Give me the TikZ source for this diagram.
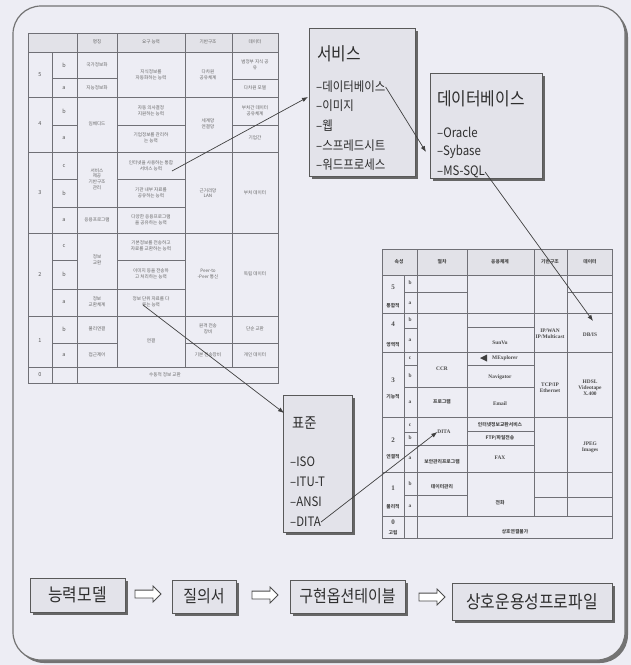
\documentclass[tikz,border=0pt]{standalone}
\usepackage{fontspec}
\setmainfont{Noto Sans CJK KR}
\newfontfamily\kr{Noto Sans CJK KR}
\newfontfamily\krn[FakeStretch=0.88]{Noto Sans CJK KR}
\newfontfamily\tms{Liberation Serif}
\usetikzlibrary{shapes.arrows,shadows,arrows.meta}
\definecolor{bg}{HTML}{EDEDF4}
\definecolor{panelc}{HTML}{E3E3EA}
\definecolor{hdr}{HTML}{E2E2E8}
\definecolor{ink}{HTML}{2E2E2E}
\definecolor{grid}{HTML}{707076}
\begin{document}
\begin{tikzpicture}[x=1pt,y=-1pt,
 tline/.style={draw=grid, line width=0.7pt},
 ltxt/.style={font=\kr\fontsize{4.6}{5.6}\selectfont, text=black!60, align=center, inner sep=0pt},
 lnum/.style={font=\kr\fontsize{5.5}{6}\selectfont, text=black!65, inner sep=0pt},
 rtxt/.style={font=\tms\bfseries\fontsize{5.4}{6.2}\selectfont, text=black!70, align=center, inner sep=0pt},
 rkr/.style={font=\kr\bfseries\fontsize{4.8}{5.6}\selectfont, text=black!70, align=center, inner sep=0pt},
 panel/.style={draw=black!65, line width=0.9pt, fill=panelc, general shadow={fill=black!60, shadow xshift=3pt, shadow yshift=-3pt}},
 ttl/.style={font=\krn\fontsize{18}{18}\selectfont, text=ink, inner sep=0pt, anchor=west},
 itm/.style={font=\krn\fontsize{13}{13}\selectfont, text=ink, inner sep=0pt, anchor=west},
 link/.style={draw=black!75, line width=0.7pt, -{Latex[length=6pt,width=4.5pt]}},
 flow/.style={panel, text=ink, inner sep=0pt},
 fat/.style={single arrow, draw=black!70, fill=white, line width=0.8pt, minimum height=26pt, inner sep=3.5pt, single arrow head extend=4pt}
]
\fill[bg] (0,0) rectangle (631,665);
\useasboundingbox (0,0) rectangle (631,665);
% outer frame
\fill[black!55, rounded corners=28pt] (16,9) rectangle (628,663);
\fill[bg, rounded corners=28pt] (13,6) rectangle (625,660);
\draw[black!55, line width=1.2pt, rounded corners=28pt] (13,6) rectangle (625,660);

% ================= left table =================
\fill[hdr] (28,33) rectangle (278,52);
\draw[tline] (28,33) rectangle (278,383);
\foreach \y in {52,97,152,233,316,367} \draw[tline] (28,\y) -- (278,\y);
\draw[tline] (52,52) -- (52,383);
\draw[tline] (77,33) -- (77,383);
\draw[tline] (117,33) -- (117,367);
\draw[tline] (185,33) -- (185,367);
\draw[tline] (232,33) -- (232,367);
\draw[tline] (52,78) -- (117,78);  \draw[tline] (232,79) -- (278,79);
\draw[tline] (52,125) -- (77,125); \draw[tline] (117,125) -- (185,125); \draw[tline] (232,125) -- (278,125);
\draw[tline] (52,179) -- (77,179); \draw[tline] (117,179) -- (185,179);
\draw[tline] (52,207) -- (185,207);
\draw[tline] (52,260) -- (77,260); \draw[tline] (117,260) -- (185,260);
\draw[tline] (52,289) -- (185,289);
\draw[tline] (52,343) -- (117,343); \draw[tline] (185,343) -- (278,343);

\node[ltxt] (lh2) at (97,42) {명칭};
\node[ltxt] (lh3) at (151,42) {요구 능력};
\node[ltxt] (lh4) at (208,42) {기반구조};
\node[ltxt] (lh5) at (255,42) {데이터};
\node[lnum] (ln5) at (40,75) {5};
\node[lnum] (ln4) at (40,124) {4};
\node[lnum] (ln3) at (40,193) {3};
\node[lnum] (ln2) at (40,274) {2};
\node[lnum] (ln1) at (40,341) {1};
\node[lnum] (ln0) at (40,375) {0};
\node[lnum] (ls5b) at (64,65) {b};  \node[lnum] (ls5a) at (64,88) {a};
\node[lnum] (ls4b) at (64,111) {b}; \node[lnum] (ls4a) at (64,138) {a};
\node[lnum] (ls3c) at (64,166) {c}; \node[lnum] (ls3b) at (64,193) {b}; \node[lnum] (ls3a) at (64,220) {a};
\node[lnum] (ls2c) at (64,246) {c}; \node[lnum] (ls2b) at (64,274) {b}; \node[lnum] (ls2a) at (64,302) {a};
\node[lnum] (ls1b) at (64,329) {b}; \node[lnum] (ls1a) at (64,355) {a};

\node[ltxt] (l5n1) at (97,65) {국가정보화};
\node[ltxt] (l5n2) at (97,88) {지능정보화};
\node[ltxt] (l5c) at (151,75) {지식정보를\\자동화하는 능력};
\node[ltxt] (l5i) at (208,75) {다차원\\공유체계};
\node[ltxt] (l5d1) at (255,65) {범정부 지식 공\\유};
\node[ltxt] (l5d2) at (255,88) {다차원 모델};
\node[ltxt] (l4n) at (97,124) {임베디드};
\node[ltxt] (l4c1) at (151,111) {자동 의사결정\\지원하는 능력};
\node[ltxt] (l4c2) at (151,138) {기업정보를 관리하\\는 능력};
\node[ltxt] (l4i) at (208,124) {세계망\\연결망};
\node[ltxt] (l4d1) at (255,111) {부처간 데이터\\공유체계};
\node[ltxt] (l4d2) at (255,138) {기업간};
\node[ltxt] (l3n1) at (97,179) {서비스\\제공\\기반구조\\관리};
\node[ltxt] (l3n2) at (97,220) {응용프로그램};
\node[ltxt] (l3c1) at (151,166) {인터넷을 사용하는 통합\\서비스 능력};
\node[ltxt] (l3c2) at (151,193) {기관 내부 자료를\\공유하는 능력};
\node[ltxt] (l3c3) at (151,220) {다양한 응용프로그램\\을 공유하는 능력};
\node[ltxt] (l3i) at (208,193) {근거리망\\LAN};
\node[ltxt] (l3d) at (255,193) {부처 데이터};
\node[ltxt] (l2n1) at (97,260) {정보\\교환};
\node[ltxt] (l2n2) at (97,302) {정보\\교환체계};
\node[ltxt] (l2c1) at (151,246) {기본정보를 전송하고\\자료를 교환하는 능력};
\node[ltxt] (l2c2) at (151,274) {이미지 등을 전송하\\고 처리하는 능력};
\node[ltxt] (l2c3) at (151,302) {정보 단위 자료를 다\\루는 능력};
\node[ltxt] (l2i) at (208,274) {Peer-to\\-Peer 통신};
\node[ltxt] (l2d) at (255,274) {독립 데이터};
\node[ltxt] (l1n1) at (97,329) {물리연결};
\node[ltxt] (l1n2) at (97,355) {접근제어};
\node[ltxt] (l1c) at (151,341) {연결};
\node[ltxt] (l1i1) at (208,329) {원격 전송\\장비};
\node[ltxt] (l1i2) at (208,355) {기본 전송장비};
\node[ltxt] (l1d1) at (255,329) {단순 교환};
\node[ltxt] (l1d2) at (255,355) {개인 데이터};
\node[ltxt] (l0) at (165,375) {수동적 정보 교환};

% ================= right table =================
\fill[hdr] (382,249) rectangle (612,275);
\draw[tline] (382,249) rectangle (612,538);
\foreach \y in {275,313,352,417,472,516} \draw[tline] (382,\y) -- (612,\y);
\draw[tline] (404,275) -- (404,538);
\draw[tline] (417,249) -- (417,538);
\draw[tline] (467,249) -- (467,516);
\draw[tline] (534,249) -- (534,516);
\draw[tline] (567,249) -- (567,516);
\draw[tline] (404,292) -- (467,292); \draw[tline] (567,292) -- (612,292);
\draw[tline] (404,328) -- (417,328); \draw[tline] (467,327) -- (534,327);
\draw[tline] (404,365) -- (417,365); \draw[tline] (467,365) -- (534,365);
\draw[tline] (404,387) -- (534,387);
\draw[tline] (404,432) -- (417,432); \draw[tline] (467,431) -- (534,431);
\draw[tline] (404,445) -- (534,445);
\draw[tline] (404,495) -- (467,495);
\draw[tline] (534,497) -- (612,497);

\node[rkr] (rh1) at (399,262) {속성};
\node[rkr] (rh2) at (442,262) {절차};
\node[rkr] (rh3) at (500,262) {응용체계};
\node[rkr] (rh4) at (550,262) {기반구조};
\node[rkr] (rh5) at (590,262) {데이터};
\node[rtxt,font=\tms\bfseries\fontsize{7}{7}\selectfont] (rn5) at (393,287) {5};
\node[rkr] (rl5) at (393,306) {통합적};
\node[rtxt,font=\tms\bfseries\fontsize{7}{7}\selectfont] (rn4) at (393,324) {4};
\node[rkr] (rl4) at (393,345) {영역적};
\node[rtxt,font=\tms\bfseries\fontsize{7}{7}\selectfont] (rn3) at (393,380) {3};
\node[rkr] (rl3) at (393,397) {기능적};
\node[rtxt,font=\tms\bfseries\fontsize{7}{7}\selectfont] (rn2) at (393,440) {2};
\node[rkr] (rl2) at (393,457) {연결적};
\node[rtxt,font=\tms\bfseries\fontsize{7}{7}\selectfont] (rn1) at (393,488) {1};
\node[rkr] (rl1) at (393,507) {물리적};
\node[rtxt,font=\tms\bfseries\fontsize{7}{7}\selectfont] (rn0) at (393,522) {0};
\node[rkr] (rl0) at (393,533) {고립};
\node[rtxt] (rs5b) at (410,283) {b}; \node[rtxt] (rs5a) at (410,303) {a};
\node[rtxt] (rs4b) at (410,320) {b}; \node[rtxt] (rs4a) at (410,340) {a};
\node[rtxt] (rs3c) at (410,358) {c}; \node[rtxt] (rs3b) at (410,376) {b}; \node[rtxt] (rs3a) at (410,402) {a};
\node[rtxt] (rs2c) at (410,425) {c}; \node[rtxt] (rs2b) at (410,438) {b}; \node[rtxt] (rs2a) at (410,458) {a};
\node[rtxt] (rs1b) at (410,484) {b}; \node[rtxt] (rs1a) at (410,506) {a};

\node[rtxt] (rccr) at (442,369) {CCR};
\node[rkr] (rprog) at (442,402) {프로그램};
\node[rtxt] (rdita) at (444,432) {DITA};
\node[rkr] (rmdb) at (442,462) {보안관리프로그램};
\node[rkr] (rdm) at (442,487) {데이터관리};
\node[rtxt] (rsun) at (500,343) {SunVu};
\node[rtxt] (rmex) at (505,358) {MExplorer};
\node[rtxt] (rnav) at (500,377) {Navigator};
\node[rtxt] (rmail) at (500,404) {Email};
\node[rkr] (rinet) at (500,425) {인터넷정보교환서비스};
\node[rkr] (rftp) at (500,438) {FTP/파일전송};
\node[rtxt] (rfax) at (500,458) {FAX};
\node[rkr] (rtel) at (500,503) {전화};
\node[rtxt] (rip) at (550,334) {IP/WAN\\IP/Multicast};
\node[rtxt] (rtcp) at (550,388) {TCP/IP\\Ethernet};
\node[rtxt] (rdbis) at (590,335) {DB/IS};
\node[rtxt] (rhdsl) at (590,388) {HDSL\\Videotape\\X.400};
\node[rtxt] (rjpeg) at (590,447) {JPEG\\Images};
\node[rkr] (rzero) at (515,532) {상호연결불가};
\fill[black!75] (480,358) -- (487,354.5) -- (487,361.5) -- cycle;

% ================= panels =================
\node[panel, minimum width=106pt, minimum height=148pt] (svc) at (362,102) {};
\node[ttl] (svct) at (317,54) {서비스};
\node[itm] (s1) at (316,87) {–데이터베이스};
\node[itm] (s2) at (316,106) {–이미지};
\node[itm] (s3) at (316,126) {–웹};
\node[itm] (s4) at (316,146) {–스프레드시트};
\node[itm] (s5) at (316,165) {–워드프로세스};

\node[panel, minimum width=112pt, minimum height=105pt] (db) at (486,125.5) {};
\node[ttl] (dbt) at (437,99) {데이터베이스};
\node[itm] (d1) at (437,132) {–Oracle};
\node[itm] (d2) at (437,152) {–Sybase};
\node[itm] (d3) at (437,172) {–MS-SQL};

\node[panel, minimum width=69pt, minimum height=137pt] (std) at (317.5,463.5) {};
\node[ttl, font=\krn\fontsize{15}{15}\selectfont] (stdt) at (292,423) {표준};
\node[itm] (t1) at (290,462) {–ISO};
\node[itm] (t2) at (290,482) {–ITU-T};
\node[itm] (t3) at (290,502) {–ANSI};
\node[itm] (t4) at (290,522) {–DITA};

% ================= connectors =================
\coordinate (a1s) at (172,171);
\coordinate (a1e) at (308,97);
\coordinate (a2e) at (426,152);
\coordinate (a3e) at (593,321);
\coordinate (a4s) at (143,305);
\coordinate (a4e) at (284,413);
\draw[link] (a1s) -- (a1e);
\draw[link] (s1.east) -- (a2e);
\draw[link] (d3.east) -- (a3e);
\draw[link] (a4s) -- (a4e);
\draw[link] (t4.east) -- (rdita.west);

% ================= bottom flow =================
\node[flow, font=\krn\fontsize{18}{18}\selectfont, minimum width=95pt, minimum height=34pt] (f1) at (77.5,595) {능력모델};
\node[flow, font=\krn\fontsize{17}{17}\selectfont, minimum width=64pt, minimum height=33pt] (f2) at (204,596.5) {질의서};
\node[flow, font=\krn\fontsize{17}{17}\selectfont, minimum width=115pt, minimum height=33pt] (f3) at (347.5,596.5) {구현옵션테이블};
\node[flow, font=\krn\fontsize{18}{18}\selectfont, minimum width=160pt, minimum height=37pt] (f4) at (532,601.5) {상호운용성프로파일};
\node[fat] (g1) at (146,594) {};
\node[fat] (g2) at (263,595) {};
\node[fat] (g3) at (430,597) {};
\end{tikzpicture}
\end{document}
